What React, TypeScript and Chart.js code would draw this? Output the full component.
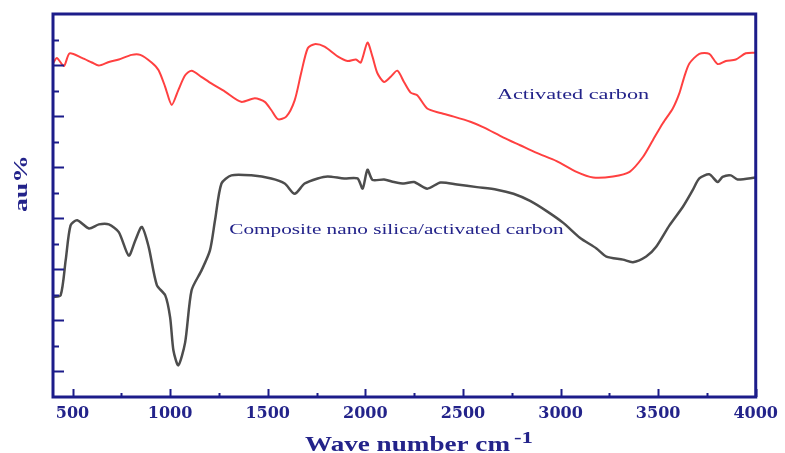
import React, { useEffect, useRef } from "react";
import { Chart, registerables } from "chart.js";

Chart.register(...registerables);

// ---- Data (wavenumber in cm^-1, intensity in arbitrary units) ----
const activatedWn = [400, 420, 456, 485, 548, 599, 635, 686, 737, 803, 847, 905, 941, 975, 1008, 1042, 1077, 1110, 1160, 1211, 1281, 1364, 1434, 1485, 1518, 1552, 1595, 1638, 1671, 1705, 1740, 1791, 1858, 1909, 1952, 1977, 2011, 2037, 2062, 2096, 2130, 2164, 2198, 2232, 2266, 2317, 2385, 2453, 2538, 2606, 2708, 2793, 2878, 2980, 3082, 3167, 3269, 3354, 3422, 3473, 3524, 3575, 3609, 3634, 3660, 3711, 3762, 3805, 3847, 3898, 3949, 4000];
const activatedVal = [6.03, 6.14, 5.98, 6.23, 6.14, 6.05, 5.99, 6.06, 6.11, 6.2, 6.2, 6.05, 5.9, 5.57, 5.22, 5.51, 5.8, 5.89, 5.77, 5.64, 5.48, 5.28, 5.35, 5.28, 5.12, 4.94, 4.99, 5.31, 5.84, 6.33, 6.41, 6.36, 6.17, 6.08, 6.11, 6.05, 6.44, 6.16, 5.84, 5.67, 5.77, 5.89, 5.67, 5.46, 5.41, 5.15, 5.06, 4.99, 4.89, 4.78, 4.58, 4.43, 4.28, 4.12, 3.91, 3.8, 3.82, 3.91, 4.2, 4.53, 4.86, 5.15, 5.45, 5.77, 6.03, 6.22, 6.22, 6.02, 6.08, 6.11, 6.23, 6.24];

const compositeWn = [400, 439, 465, 490, 524, 584, 635, 686, 737, 788, 822, 855, 890, 932, 975, 1000, 1017, 1042, 1077, 1110, 1161, 1204, 1230, 1263, 1314, 1416, 1518, 1587, 1638, 1689, 1756, 1807, 1892, 1960, 1986, 2011, 2037, 2096, 2147, 2198, 2249, 2317, 2385, 2470, 2572, 2674, 2759, 2844, 2929, 3014, 3099, 3184, 3235, 3320, 3371, 3439, 3490, 3558, 3626, 3677, 3711, 3762, 3805, 3830, 3873, 3907, 4000];
const compositeVal = [1.46, 1.49, 2.18, 2.86, 2.96, 2.8, 2.88, 2.88, 2.73, 2.27, 2.57, 2.83, 2.44, 1.69, 1.49, 1.06, 0.41, 0.12, 0.57, 1.59, 1.98, 2.37, 2.96, 3.68, 3.84, 3.84, 3.78, 3.68, 3.48, 3.68, 3.78, 3.82, 3.78, 3.78, 3.58, 3.95, 3.75, 3.76, 3.71, 3.68, 3.71, 3.58, 3.7, 3.66, 3.61, 3.56, 3.48, 3.34, 3.14, 2.91, 2.62, 2.41, 2.25, 2.19, 2.14, 2.25, 2.44, 2.86, 3.22, 3.55, 3.78, 3.86, 3.71, 3.81, 3.84, 3.76, 3.8];

const xMajorTicks = [500, 1000, 1500, 2000, 2500, 3000, 3500, 4000];
const xMinorTicks = [750, 1250, 1750, 2250, 2750, 3250, 3750];
const yMajorTicks = [0, 1, 2, 3, 4, 5, 6];
const yMinorTicks = [0.5, 1.5, 2.5, 3.5, 4.5, 5.5, 6.5];

const xTitle = "Wave number cm";
const xTitleSup = "-1";
const yTitle = "au%";
const activatedLabel = "Activated carbon";
const compositeLabel = "Composite nano silica/activated carbon";

// label anchors in data units [wnStart, wnEnd, value]
const activatedLabelPos = [2674, 3454, 5.41];
const compositeLabelPos = [1303, 3016, 2.76];

const NAVY = "#1c1c8a";
const TEXT_NAVY = "#23238a";

function stretchedText(ctx: CanvasRenderingContext2D, text: string, x: number, y: number, font: string, width: number) {
  ctx.save();
  ctx.font = font;
  const w = ctx.measureText(text).width;
  ctx.translate(x, y);
  ctx.scale(width / w, 1);
  ctx.fillText(text, 0, 0);
  ctx.restore();
}

const decorPlugin = {
  id: "decor",
  afterDatasetsDraw(chart: any) {
    const { ctx, chartArea, scales } = chart;
    const xs = scales.x;
    const ys = scales.y;
    const { left, right, top, bottom } = chartArea;
    ctx.save();
    ctx.strokeStyle = NAVY;
    // inward ticks
    ctx.lineWidth = 2;
    ctx.beginPath();
    xMajorTicks.forEach((v) => {
      const px = Math.round(xs.getPixelForValue(v)) + 0.5;
      ctx.moveTo(px, bottom);
      ctx.lineTo(px, bottom - 8);
    });
    xMinorTicks.forEach((v) => {
      const px = Math.round(xs.getPixelForValue(v)) + 0.5;
      ctx.moveTo(px, bottom);
      ctx.lineTo(px, bottom - 4);
    });
    yMajorTicks.forEach((v) => {
      const py = Math.round(ys.getPixelForValue(v)) + 0.5;
      ctx.moveTo(left, py);
      ctx.lineTo(left + 11, py);
    });
    yMinorTicks.forEach((v) => {
      const py = Math.round(ys.getPixelForValue(v)) + 0.5;
      ctx.moveTo(left, py);
      ctx.lineTo(left + 6, py);
    });
    ctx.stroke();
    // frame
    ctx.lineWidth = 3;
    ctx.strokeRect(left, top, right - left, bottom - top);

    // titles
    ctx.fillStyle = TEXT_NAVY;
    ctx.textBaseline = "alphabetic";
    ctx.textAlign = "left";
    stretchedText(ctx, xTitle, 305, 451, "bold 21px 'Liberation Serif'", 205);
    stretchedText(ctx, xTitleSup, 514, 443, "bold 16px 'Liberation Serif'", 19);

    ctx.save();
    ctx.translate(26.5, 212);
    ctx.rotate(-Math.PI / 2);
    stretchedText(ctx, yTitle, 0, 0, "bold 19px 'Liberation Serif'", 57);
    ctx.restore();

    // curve labels
    ctx.textBaseline = "middle";
    const a0 = xs.getPixelForValue(activatedLabelPos[0]);
    const a1 = xs.getPixelForValue(activatedLabelPos[1]);
    stretchedText(ctx, activatedLabel, a0, ys.getPixelForValue(activatedLabelPos[2]), "15px 'Liberation Serif'", a1 - a0);
    const c0 = xs.getPixelForValue(compositeLabelPos[0]);
    const c1 = xs.getPixelForValue(compositeLabelPos[1]);
    stretchedText(ctx, compositeLabel, c0, ys.getPixelForValue(compositeLabelPos[2]), "15px 'Liberation Serif'", c1 - c0);
    ctx.restore();
  },
};

export default function App() {
  const ref = useRef<HTMLCanvasElement | null>(null);
  useEffect(() => {
    if (!ref.current) return;
    const chart = new Chart(ref.current, {
      type: "line",
      data: {
        datasets: [
          {
            label: activatedLabel,
            data: activatedWn.map((x, i) => ({ x, y: activatedVal[i] })),
            borderColor: "#ff4040",
            borderWidth: 2,
            pointRadius: 0,
            tension: 0.25,
            fill: false,
          },
          {
            label: compositeLabel,
            data: compositeWn.map((x, i) => ({ x, y: compositeVal[i] })),
            borderColor: "#4d4d4d",
            borderWidth: 2.5,
            pointRadius: 0,
            tension: 0.25,
            fill: false,
          },
        ],
      },
      options: {
        animation: false,
        responsive: false,
        devicePixelRatio: 1,
        layout: { padding: { left: 53, right: 25, top: 14, bottom: 0 } },
        plugins: { legend: { display: false }, tooltip: { enabled: false } },
        scales: {
          x: {
            type: "linear",
            min: 400,
            max: 4000,
            position: "bottom",
            grid: { display: false, drawTicks: false },
            border: { display: false },
            afterBuildTicks: (scale: any) => {
              scale.ticks = xMajorTicks.map((v) => ({ value: v }));
            },
            afterFit: (scale: any) => {
              scale.height = 56;
            },
            ticks: {
              autoSkip: false,
              maxRotation: 0,
              padding: 7,
              color: TEXT_NAVY,
              font: { family: "'DejaVu Serif'", weight: "bold", size: 16 },
              callback: (v: any) => String(v),
            },
          },
          y: {
            type: "linear",
            min: -0.5,
            max: 7,
            display: false,
          },
        },
      },
      plugins: [decorPlugin],
    });
    return () => chart.destroy();
  }, []);
  return (
    <div style={{ position: "fixed", left: 0, top: 0, width: 785, height: 453, background: "#fff" }}>
      <canvas ref={ref} width={785} height={453} />
    </div>
  );
}
